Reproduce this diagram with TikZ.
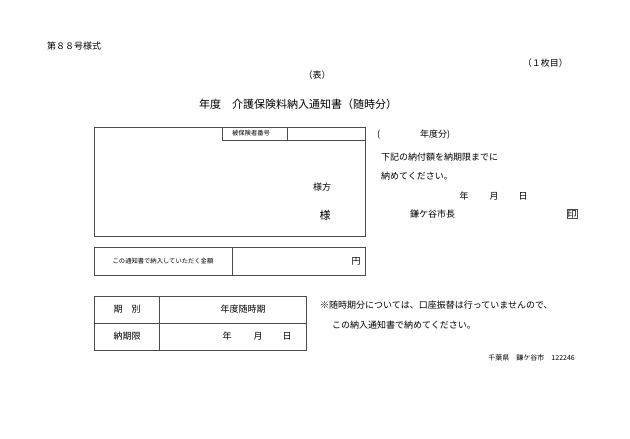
\documentclass[tikz,border=0pt]{standalone}
\usepackage{fontspec}
\setmainfont{Noto Sans CJK JP}
\begin{document}
\begin{tikzpicture}[x=1pt,y=-1pt,
  box/.style={draw=black!70,line width=0.7pt},
  t/.style={inner sep=0pt,font=\fontsize{9}{10}\selectfont},
  s/.style={inner sep=0pt,font=\fontsize{6.3}{7}\selectfont}]
\useasboundingbox[fill=white] (0,0) rectangle (630,439);
\node[t,anchor=west] (form) at (47,46) {第８８号様式};
\node[t,anchor=east] (page) at (568,63) {（１枚目）};
\node[t] (omote) at (317,75) {（表）};
\node[inner sep=0pt,font=\fontsize{11}{12}\selectfont,anchor=west] (title) at (199,104) {年度　介護保険料納入通知書（随時分）};
% main box
\draw[box] (94,127) rectangle (365,236);
\draw[box] (222,127) -- (222,140) -- (365,140);
\draw[box] (287,127) -- (287,140);
\node[s] (hih) at (251,133.5) {被保険者番号};
\node[t] (samakata) at (322,187) {様方};
\node[inner sep=0pt,font=\fontsize{11}{12}\selectfont] (sama) at (325,215) {様};
% amount
\draw[box] (94,247) rectangle (365,275);
\draw[box] (232,247) -- (232,275);
\node[s] (amt) at (163,261) {この通知書で納入していただく金額};
\node[t] (yen) at (356,261) {円};
% right side
\node[t,anchor=west] (par) at (377,135) {(};
\node[t,anchor=west] (nendo) at (420,135) {年度分)};
\node[t,anchor=west] (l1) at (381,157) {下記の納付額を納期限までに};
\node[t,anchor=west] (l2) at (381,176) {納めてください。};
\node[t] (y1) at (464,196) {年};
\node[t] (m1) at (494,196) {月};
\node[t] (d1) at (523,196) {日};
\node[t,anchor=west] (mayor) at (410,214) {鎌ケ谷市長};
\node[t,draw=black!70,line width=0.5pt,inner sep=0.5pt] (in) at (572,214) {印};
% bottom table
\draw[box] (94,296) rectangle (306,350);
\draw[box] (94,323) -- (306,323);
\draw[box] (159,296) -- (159,350);
\node[t] (kibetsu) at (127,309.5) {期　別};
\node[t] (nendozuiji) at (243,309.5) {年度随時期};
\node[t] (noukigen) at (127,336.5) {納期限};
\node[t] (y2) at (227,336.5) {年};
\node[t] (m2) at (258,336.5) {月};
\node[t] (d2) at (287,336.5) {日};
\node[t,anchor=west] (note1) at (320,305) {※随時期分については、口座振替は行っていませんので、};
\node[t,anchor=west] (note2) at (332,325) {この納入通知書で納めてください。};
\node[inner sep=0pt,font=\fontsize{7}{8}\selectfont,anchor=east] (city) at (575,358) {千葉県　鎌ケ谷市　122246};
\end{tikzpicture}
\end{document}
